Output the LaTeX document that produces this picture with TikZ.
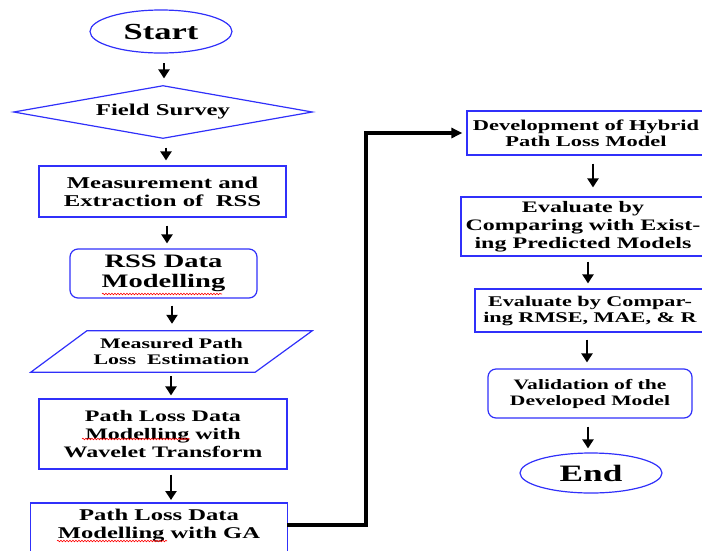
\documentclass[tikz,border=0pt]{standalone}
\usepackage{fontspec}
\setmainfont{Liberation Serif}[FakeStretch=1.5]
\usetikzlibrary{shapes.geometric,arrows.meta,decorations.pathmorphing}
\definecolor{flowblue}{RGB}{48,48,250}
\newcommand\fs[2]{\bfseries\fontsize{#1}{#2}\selectfont}
\begin{document}
\begin{tikzpicture}[x=1pt,y=-1pt,
  bluel/.style={draw=flowblue, line width=1.2pt},
  boxnode/.style={rectangle, bluel, align=center, inner xsep=0pt, inner ysep=0pt},
  arr/.style={line width=2.9pt, -{Triangle[length=9pt,width=11pt]}},
  conn/.style={line width=3.2pt, line join=miter, -{Triangle[length=11pt,width=10pt]}, shorten >=4pt},
  wave/.style={red, line width=0.6pt, decorate, decoration={snake, amplitude=0.8pt, segment length=3pt}}]
\useasboundingbox (0,0) rectangle (702,550);
\clip (0,0) rectangle (702,550);

% left column
\node[ellipse, bluel, minimum width=142pt, minimum height=43pt, inner sep=0pt, font=\fs{23}{26}] (start) at (161,31.5) {Start};
\node[diamond, bluel, aspect=5.6, minimum width=299pt, minimum height=53pt, inner sep=0pt, font=\fs{16.5}{18}] (survey) at (163,112) {Field Survey};
\node[boxnode, minimum width=247pt, minimum height=51pt, font=\fs{16.5}{18}] (meas) at (162.5,191.5) {Measurement and\\Extraction of\ \ RSS};
\node[boxnode, rounded corners=8pt, minimum width=187pt, minimum height=49pt, font=\fs{19}{20}] (rss) at (163.5,273.5) {RSS Data\\Modelling};
\node[minimum width=281pt, minimum height=41pt, inner sep=0pt, align=center, font=\fs{14.6}{16}] (para) at (171.5,351.5) {Measured Path\\Loss\ \ Estimation};
\draw[bluel] ([xshift=56pt]para.north west) -- (para.north east) -- ([xshift=-57pt]para.south east) -- (para.south west) -- cycle;
\node[boxnode, minimum width=248pt, minimum height=70pt, font=\fs{16}{18}] (wav) at (163,434) {Path Loss Data\\Modelling with\\Wavelet Transform};
\node[minimum width=256pt, minimum height=44pt, inner sep=0pt, align=center, font=\fs{16.4}{18}, anchor=north] (ga) at (159,503) {Path Loss Data\\Modelling with GA};
\draw[bluel] (ga.north west) rectangle ([yshift=-20pt]ga.south east);

% spell-check underlines
\draw[wave] (102,294) -- (222,294);
\draw[wave] (82,439) -- (190,439);
\draw[wave] (57,541) -- (167,541);

% right column
\node[boxnode, minimum width=238pt, minimum height=44pt, font=\fs{15}{16}] (hyb) at (586,133) {Development of Hybrid\\Path Loss Model};
\node[boxnode, minimum width=244pt, minimum height=59pt, font=\fs{16}{18}] (ev1) at (583,226.5) {Evaluate by\\Comparing with Exist-\\ing Predicted Models};
\node[boxnode, minimum width=230pt, minimum height=43pt, font=\fs{14.8}{16}] (ev2) at (590,310.5) {Evaluate by Compar-\\ing RMSE, MAE, \& R};
\node[boxnode, rounded corners=8pt, minimum width=204pt, minimum height=49pt, font=\fs{14.4}{16}] (val) at (590,393.5) {Validation of the\\Developed Model};
\node[ellipse, bluel, minimum width=142pt, minimum height=40pt, inner sep=0pt, font=\fs{23.5}{26}] (end) at (591,473) {End};

% arrows
\draw[arr] ([xshift=3pt,yshift=-9.5pt]start.south) -- ([xshift=1pt,yshift=6.5pt]survey.north);
\draw[arr] ([xshift=3pt,yshift=-8.5pt]survey.south) -- ([xshift=3.5pt,yshift=5pt]meas.north);
\draw[arr] ([xshift=4.5pt,yshift=-8pt]meas.south) -- ([xshift=3.5pt,yshift=5pt]rss.north);
\draw[arr] ([xshift=8.5pt,yshift=-7pt]rss.south) -- ([xshift=0.5pt,yshift=7pt]para.north);
\draw[arr] ([xshift=-0.5pt,yshift=-4pt]para.south) -- ([xshift=8pt,yshift=3pt]wav.north);
\draw[arr] ([xshift=8pt,yshift=-5pt]wav.south) -- ([xshift=12pt,yshift=3pt]ga.north);
\draw[arr] ([xshift=7pt,yshift=-8pt]hyb.south) -- ([xshift=10pt,yshift=9pt]ev1.north);
\draw[arr] ([xshift=5pt,yshift=-5pt]ev1.south) -- ([xshift=-2pt,yshift=5pt]ev2.north);
\draw[arr] ([xshift=-3pt,yshift=-7pt]ev2.south) -- ([xshift=-3pt,yshift=6pt]val.north);
\draw[arr] ([xshift=-2pt,yshift=-8pt]val.south) -- ([xshift=-3pt,yshift=4pt]end.north);

% long connector
\coordinate (c1) at (366,525);
\coordinate (c2) at (366,133);
\draw[conn] (ga.east |- c1) -- (c1) -- (c2) -- (hyb.west);
\end{tikzpicture}
\end{document}
